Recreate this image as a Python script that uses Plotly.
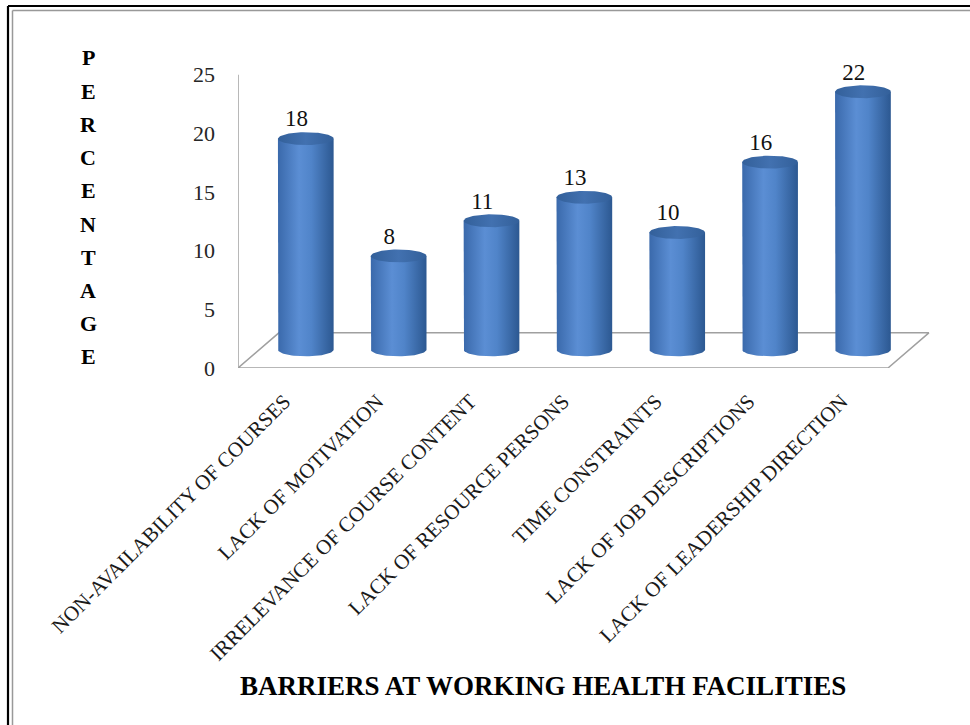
import numpy as np
import plotly.graph_objects as go

# ---------------- data ----------------
categories = [
    "NON-AVAILABILITY OF COURSES",
    "LACK OF MOTIVATION",
    "IRRELEVANCE OF COURSE CONTENT",
    "LACK OF RESOURCE PERSONS",
    "TIME CONSTRAINTS",
    "LACK OF JOB DESCRIPTIONS",
    "LACK OF LEADERSHIP DIRECTION",
]
values = [18, 8, 11, 13, 10, 16, 22]
y_ticks = [0, 5, 10, 15, 20, 25]
y_title = "PERCENTAGE"
x_title = "BARRIERS AT WORKING HEALTH FACILITIES"

# ---------------- layout / style ----------------
W, H = 970, 725
ML, MR, MT, MB = 238, 30, 63, 357
PW, PH = W - ML - MR, H - MT - MB
X_RANGE = [-0.5, 7.06]
Y_RANGE = [0, 26]
FONT = "Liberation Serif"

DX, DY = 0.23, 1.55        # depth offset of the bars (3-D look)
FDX, FDY = 0.44, 3.0       # depth of the floor
R = 0.3                    # cylinder half width (x units)
RY = 0.55                  # ellipse half height (y units)
LABEL_SHIFT = -0.1         # value labels sit slightly left of bar centre

def px_x(p):
    return (p - ML) / PW

def px_y(p):
    return (H - MB - p) / PH

fig = go.Figure()

# floor (3-D base) and vertical axis line
n = len(categories)
x0, x1 = -0.5, n - 0.5
fig.add_trace(go.Scatter(
    x=[x0, x1, x1 + FDX, x0 + FDX, x0],
    y=[0, 0, FDY, FDY, 0],
    mode="lines", line=dict(color="#a0a0a0", width=1.5),
    hoverinfo="skip", showlegend=False))
fig.add_trace(go.Scatter(
    x=[x0, x0], y=[0, y_ticks[-1]],
    mode="lines", line=dict(color="#a0a0a0", width=1.5),
    hoverinfo="skip", showlegend=False))

body_scale = [[0, "#3a69ab"], [0.38, "#5b8ed4"], [0.6, "#5084c9"], [1, "#2c5891"]]
cap_scale = [[0, "#33609a"], [0.5, "#4271b0"], [1, "#33609a"]]

t_bot = np.linspace(np.pi, 2 * np.pi, 40)
t_full = np.linspace(0, 2 * np.pi, 80)
for i, v in enumerate(values):
    cx = i + DX
    base = DY
    top = v + DY
    xs = [cx - R] + list(cx + R * np.cos(t_bot)) + [cx + R, cx - R]
    ys = [top] + list(base + RY * np.sin(t_bot)) + [top, top]
    fig.add_trace(go.Scatter(
        x=xs, y=ys, mode="lines", fill="toself",
        line=dict(width=0, color="rgba(0,0,0,0)"),
        fillgradient=dict(type="horizontal", colorscale=body_scale),
        hoverinfo="skip", showlegend=False))
    fig.add_trace(go.Scatter(
        x=cx + R * np.cos(t_full), y=top + RY * np.sin(t_full),
        mode="lines", fill="toself",
        line=dict(width=0, color="rgba(0,0,0,0)"),
        fillgradient=dict(type="horizontal", colorscale=cap_scale),
        hoverinfo="skip", showlegend=False))

# value labels
fig.add_trace(go.Scatter(
    x=[i + DX + LABEL_SHIFT for i in range(n)],
    y=[v + DY + RY for v in values],
    mode="text", text=[str(v) for v in values],
    textposition="top center",
    textfont=dict(family=FONT, size=23, color="#111111"),
    cliponaxis=False, hoverinfo="skip", showlegend=False))

fig.update_xaxes(
    range=X_RANGE, tickmode="array", tickvals=list(range(n)), ticktext=categories,
    tickangle=-45, ticks="", showgrid=False, zeroline=False, showline=False,
    tickfont=dict(family=FONT, size=21, color="#1a1a1a"), ticklabelstandoff=16)
fig.update_yaxes(
    range=Y_RANGE, tickmode="array", tickvals=y_ticks,
    ticks="", showgrid=False, zeroline=False, showline=False,
    tickfont=dict(family=FONT, size=22, color="#262626"), ticklabelstandoff=22)

annotations = []
# stacked y title letters
for k, ch in enumerate(y_title):
    annotations.append(dict(
        xref="paper", yref="paper", x=px_x(88), y=px_y(58 + k * 33.2),
        text="<b>%s</b>" % ch, showarrow=False, xanchor="center", yanchor="middle",
        font=dict(family=FONT, size=22, color="#000000")))
annotations.append(dict(
    xref="paper", yref="paper", x=px_x(543), y=px_y(686),
    text="<b>%s</b>" % x_title, showarrow=False, xanchor="center", yanchor="middle",
    font=dict(family=FONT, size=27, color="#000000")))

shapes = [
    dict(type="line", xref="paper", yref="paper", x0=px_x(8), x1=px_x(8), y0=px_y(6), y1=px_y(H + 5),
         line=dict(color="#000000", width=2.2)),
    dict(type="line", xref="paper", yref="paper", x0=px_x(8), x1=px_x(W + 5), y0=px_y(6), y1=px_y(6),
         line=dict(color="#000000", width=2.2)),
    dict(type="line", xref="paper", yref="paper", x0=px_x(12.5), x1=px_x(12.5), y0=px_y(10.5), y1=px_y(H + 5),
         line=dict(color="#999999", width=1.5)),
    dict(type="line", xref="paper", yref="paper", x0=px_x(12.5), x1=px_x(W + 5), y0=px_y(10.5), y1=px_y(10.5),
         line=dict(color="#999999", width=1.5)),
]

fig.update_layout(
    width=W, height=H, autosize=False,
    margin=dict(l=ML, r=MR, t=MT, b=MB, autoexpand=False),
    paper_bgcolor="white", plot_bgcolor="rgba(0,0,0,0)",
    showlegend=False, annotations=annotations, shapes=shapes,
    font=dict(family=FONT),
)

fig.write_html("out.html")
